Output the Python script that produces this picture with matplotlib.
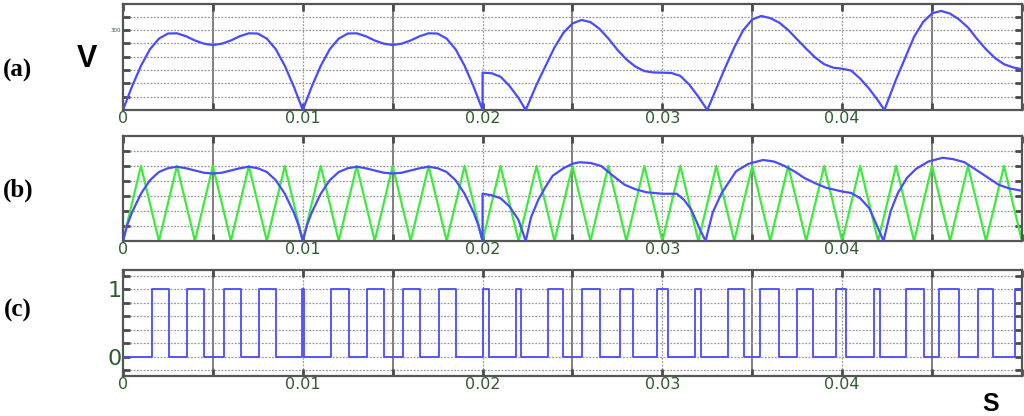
import numpy as np
import matplotlib.pyplot as plt

# ---------------- data (time in ms) ----------------
# (a) rectified reference voltage
va_t = [0, 0.5, 1, 1.5, 2, 2.5, 3, 3.5, 4, 4.5, 5, 5.5, 6, 6.5, 7, 7.5, 8, 8.5, 9, 9.5, 10,
        10.5, 11, 11.5, 12, 12.5, 13, 13.5, 14, 14.5, 15, 15.5, 16, 16.5, 17, 17.5, 18, 18.5, 19, 19.5, 20,
        20, 20.5, 21, 21.5, 22, 22.4, 23, 23.5, 24, 24.5, 25, 25.5, 26, 26.5, 27, 27.5, 28, 28.5, 29, 29.5,
        30, 30.5, 31, 31.5, 32, 32.5, 33, 33.5, 34, 34.5, 35, 35.5, 36, 36.5, 37, 37.5, 38, 38.5, 39, 39.5,
        40, 40.5, 41, 41.5, 42, 42.35, 43, 43.5, 44, 44.5, 45, 45.5, 46, 46.5, 47, 47.5, 48, 48.5, 49, 49.5, 50]
va_v = [0, 88, 166, 228, 268, 287, 288, 277, 261, 249, 244, 249, 261, 277, 288, 287, 268, 228, 166, 88, 0,
        88, 166, 228, 268, 287, 288, 277, 261, 249, 244, 249, 261, 277, 288, 287, 268, 228, 166, 88, 0,
        140, 138, 125, 90, 45, 0, 95, 165, 235, 290, 325, 338, 330, 305, 268, 226, 190, 163, 146, 141,
        140, 139, 128, 95, 50, 0, 80, 160, 235, 300, 340, 353, 345, 328, 300, 265, 230, 197, 172, 159,
        155, 148, 118, 80, 35, 0, 115, 195, 275, 330, 363, 372, 362, 340, 310, 267, 228, 195, 172, 160, 153]

# (b) modulating wave (per unit) and triangular carrier
vb_t = [0, 0.25, 0.5, 1, 1.5, 2, 2.5, 3, 3.5, 4, 4.5, 5, 5.5, 6, 6.5, 7, 7.5, 8, 8.5, 9, 9.5, 9.75, 10,
        10.25, 10.5, 11, 11.5, 12, 12.5, 13, 13.5, 14, 14.5, 15, 15.5, 16, 16.5, 17, 17.5, 18, 18.5, 19, 19.5, 19.75, 20,
        20, 20.5, 21, 21.5, 22, 22.4, 22.7, 23.1, 23.5, 23.9, 24.5, 25, 25.4, 26, 26.6, 27.2, 27.9, 28.5, 29.1,
        30, 30.8, 31.2, 31.6, 32.1, 32.4, 32.8, 33.3, 34.1, 34.8, 35.6, 36.2, 36.8, 37.4, 37.9, 38.5, 39.1,
        40, 40.5, 41, 41.5, 41.8, 42.3, 42.7, 43.1, 43.6, 44.1, 44.8, 45.6, 46.2, 46.8, 47.7, 48.7, 49.3, 50]
vb_v = [0, 0.22, 0.38, 0.63, 0.81, 0.92, 0.97, 0.99, 0.97, 0.94, 0.91, 0.90, 0.91, 0.94, 0.97, 0.99, 0.97, 0.92, 0.81, 0.63, 0.38, 0.22, 0,
        0.22, 0.38, 0.63, 0.81, 0.92, 0.97, 0.99, 0.97, 0.94, 0.91, 0.90, 0.91, 0.94, 0.97, 0.99, 0.97, 0.92, 0.81, 0.63, 0.38, 0.22, 0,
        0.63, 0.61, 0.57, 0.46, 0.28, 0, 0.32, 0.55, 0.72, 0.87, 0.97, 1.03, 1.05, 1.04, 1.0, 0.88, 0.75, 0.69, 0.65,
        0.63, 0.63, 0.55, 0.42, 0.15, 0, 0.38, 0.64, 0.93, 1.03, 1.08, 1.06, 1.0, 0.92, 0.84, 0.77, 0.71,
        0.66, 0.64, 0.57, 0.44, 0.28, 0, 0.40, 0.64, 0.84, 0.96, 1.06, 1.11, 1.09, 1.05, 0.91, 0.75, 0.70, 0.67]

carrier_t = [0, 1, 2, 3, 4, 5, 6, 7, 8, 9, 10, 11, 12, 13, 14, 15, 16, 17, 18, 19, 20, 21, 22, 23, 24, 25,
             26, 27, 28, 29, 30, 31, 32, 33, 34, 35, 36, 37, 38, 39, 40, 41, 42, 43, 44, 45, 46, 47, 48, 49, 50]
carrier_v = [0, 1, 0, 1, 0, 1, 0, 1, 0, 1, 0, 1, 0, 1, 0, 1, 0, 1, 0, 1, 0, 1, 0, 1, 0, 1,
             0, 1, 0, 1, 0, 1, 0, 1, 0, 1, 0, 1, 0, 1, 0, 1, 0, 1, 0, 1, 0, 1, 0, 1, 0]

# (c) gate pulses: rising / falling edges
pwm_rise = [1.63, 3.57, 5.61, 7.56, 9.98, 11.59, 13.59, 15.57, 17.56, 20.0, 21.86, 23.62, 25.55,
            27.63, 29.68, 31.81, 33.65, 35.42, 37.49, 39.66, 41.77, 43.54, 45.39, 47.54, 49.62]
pwm_fall = [2.56, 4.52, 6.56, 8.50, 10.05, 12.56, 14.52, 16.54, 18.50, 20.37, 22.14, 24.49, 26.53,
            28.39, 30.32, 32.15, 34.55, 36.48, 38.40, 40.23, 42.10, 44.56, 46.48, 48.41, 50.0]

x_labels = ['0', '0.01', '0.02', '0.03', '0.04']

BLUE = '#4a4aff'
GREEN = '#3cec3c'
LABEL_GREEN = '#2f5c2f'
TICK_FONT = 'DejaVu Sans'


def ms(t):
    return np.array(t) / 1000.0


def style_axes(ax, ylim, hlines):
    ax.set_xlim(0, 0.05)
    ax.set_ylim(*ylim)
    majors = np.arange(0, 0.0501, 0.005)
    ax.set_xticks(majors)
    labels = []
    for i, x in enumerate(majors):
        if i % 2 == 0 and i // 2 < len(x_labels):
            labels.append(x_labels[i // 2])
        else:
            labels.append('')
    ax.set_xticklabels(labels, family=TICK_FONT, fontsize=11.5)
    for i, x in enumerate(majors[1:-1], start=1):
        if i % 2 == 1:
            ax.axvline(x, color='#6a6a6a', lw=1.2, zorder=1)
        else:
            ax.axvline(x, color='#9a9a9a', lw=0.9, ls=(0, (1.5, 1.2)), zorder=1)
    for y in hlines:
        ax.axhline(y, color='#9a9a9a', lw=0.9, ls=(0, (1.5, 1.2)), zorder=1)
    ax.set_yticks(hlines)
    ax.tick_params(direction='in', length=5, width=2, color='#4a4a4a',
                   labelcolor=LABEL_GREEN, top=True, right=True, pad=1)
    for s in ax.spines.values():
        s.set_color('#555555')
        s.set_linewidth(1.6)


fig = plt.figure(figsize=(10.24, 4.16), dpi=100)

ax_a = fig.add_axes([0.1201, 0.7356, 0.8779, 0.2548])
ax_b = fig.add_axes([0.1201, 0.4207, 0.8779, 0.2524])
ax_c = fig.add_axes([0.1201, 0.0962, 0.8779, 0.2548])

# (a)
ax_a.plot(ms(va_t), va_v, color=BLUE, lw=1.6, zorder=3)
a_lines = [50, 100, 150, 200, 250, 300, 350]
style_axes(ax_a, (0, 398), a_lines)
ax_a.set_yticklabels(['' if y != 300 else '300' for y in a_lines], fontsize=4)

# (b)
ax_b.plot(ms(carrier_t), carrier_v, color=GREEN, lw=1.6, zorder=2)
ax_b.plot(ms(vb_t), vb_v, color=BLUE, lw=1.6, zorder=3)
b_lines = [0.2, 0.4, 0.6, 0.8, 1.0, 1.2]
style_axes(ax_b, (0, 1.4), b_lines)
ax_b.set_yticklabels([])

# (c)
px = [0.0]
py = [0]
for r, f in zip(pwm_rise, pwm_fall):
    px += [r, r, f, f]
    py += [0, 1, 1, 0]
ax_c.plot(ms(px), py, color=BLUE, lw=1.3, zorder=3)
c_lines = [-0.2, 0, 0.2, 0.4, 0.6, 0.8, 1.0, 1.2]
style_axes(ax_c, (-0.29, 1.29), c_lines)
ax_c.set_yticklabels(['1' if y == 1.0 else ('0' if y == 0 else '') for y in c_lines],
                     family=TICK_FONT, fontsize=16)

# panel letters and units
for lab, yp in [('(a)', 70), ('(b)', 190), ('(c)', 310)]:
    fig.text(18 / 1024, 1 - yp / 416, lab, family='Liberation Serif', fontweight='bold',
             fontsize=18, ha='center', va='center')
fig.text(87 / 1024, 1 - 59 / 416, 'V', family='Liberation Sans', fontweight='bold',
         fontsize=22, ha='center', va='center')
fig.text(991 / 1024, 1 - 404 / 416, 'S', family='Liberation Sans', fontweight='bold',
         fontsize=18, ha='center', va='center')

fig.savefig('out.png', dpi=100)
